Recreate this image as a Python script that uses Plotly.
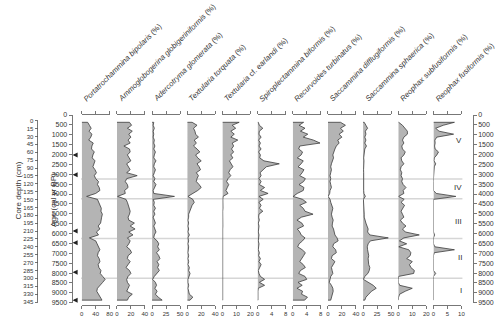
import plotly.graph_objects as go

# ---------------- data ----------------
ages = [370, 520, 670, 820, 970, 1120, 1270, 1420, 1570, 1720,
        1870, 2020, 2170, 2320, 2470, 2620, 2770, 2920, 3070, 3220,
        3370, 3520, 3670, 3820, 3970, 4120, 4270, 4420, 4570, 4720,
        4870, 5020, 5170, 5320, 5470, 5620, 5770, 5920, 6070, 6220,
        6370, 6520, 6670, 6820, 6970, 7120, 7270, 7420, 7570, 7720,
        7870, 8020, 8170, 8320, 8470, 8620, 8770, 8920, 9070, 9220,
        9370]

species = [
    "<i>Portatrochammina bipolaris</i> (%)",
    "<i>Ammoglobogerina globigeriniformis</i> (%)",
    "<i>Adercotryma glomerata</i> (%)",
    "<i>Textularia torquata</i> (%)",
    "<i>Textularia</i> cf. <i>earlandi</i> (%)",
    "<i>Spiroplectammina biformis</i> (%)",
    "<i>Recurvoides turbinatus</i> (%)",
    "<i>Saccammina difflugiformis</i> (%)",
    "<i>Saccammina sphaerica</i> (%)",
    "<i>Reophax subfusiformis</i> (%)",
    "<i>Reophax fusiformis</i> (%)",
]

portatrochammina = [17, 22, 27, 21, 29, 26, 20, 33, 29, 28,
                    36, 32, 30, 38, 34, 32, 38, 42, 36, 40,
                    48, 45, 50, 52, 40, 14, 45, 48, 52, 56,
                    55, 59, 57, 55, 54, 47, 52, 42, 48, 22,
                    40, 44, 48, 52, 47, 45, 50, 52, 47, 49,
                    55, 53, 60, 67, 60, 52, 45, 43, 48, 52,
                    58]
ammoglobogerina = [18, 21, 15, 22, 17, 20, 16, 19, 10, 18,
                   19, 15, 17, 20, 14, 17, 19, 14, 29, 14,
                   12, 15, 16, 11, 12, 1, 13, 15, 16, 17,
                   19, 18, 16, 17, 25, 19, 26, 17, 23, 15,
                   19, 17, 14, 19, 21, 16, 15, 19, 16, 13,
                   18, 20, 16, 14, 15, 18, 16, 14, 22, 17,
                   15]
adercotryma = [3, 2, 4, 2, 3, 2, 4, 3, 5, 3,
               6, 4, 3, 7, 4, 3, 6, 4, 2, 5,
               3, 7, 4, 2, 3, 40, 2, 4, 3, 6,
               3, 5, 2, 4, 6, 3, 5, 7, 4, 3,
               9, 12, 10, 13, 8, 12, 14, 9, 12, 10,
               13, 8, 4, 1, 6, 8, 5, 9, 6, 11,
               18]
textularia_torquata = [7, 14, 9, 11, 12, 16, 10, 13, 9, 14,
                       18, 12, 15, 20, 14, 17, 19, 13, 16, 14,
                       13, 17, 20, 15, 8, 1, 8, 10, 7, 5,
                       3, 2, 2, 1, 2, 1, 2, 1, 3, 1,
                       2, 1, 2, 1, 1, 2, 1, 2, 1, 3,
                       2, 4, 2, 1, 1, 2, 1, 2, 3, 8,
                       4]
textularia_earlandi = [12, 7, 9.5, 6, 8.5, 6, 11, 7, 8, 6.5,
                       8, 6, 7.5, 5, 6.5, 7.5, 5.5, 4.5, 6, 4,
                       3, 4.5, 3.5, 2.5, 4, 0.5, 0.3, 0.5, 0.3, 0.4,
                       0.2, 0.3, 0.2, 0.4, 0.2, 0.3, 0.2, 0.2, 0.3, 0.2,
                       0.3, 0.2, 0.2, 0.3, 0.2, 0.2, 0.3, 0.2, 0.2, 0.3,
                       0.2, 0.2, 0.3, 0.2, 0.2, 0.2, 0.3, 0.2, 0.2, 0.2,
                       0.2]
spiroplectammina = [0.2, 0.5, 1.5, 0.5, 0.4, 1, 0.3, 0.8, 0.4, 1,
                    0.3, 0.8, 0.6, 1.8, 6.2, 2.5, 1.5, 0.7, 1, 0.4,
                    1, 0.5, 2, 0.8, 3, 0.4, 1.6, 0.4, 1, 0.5,
                    1.5, 0.4, 0.3, 0.5, 0.2, 0.4, 0.3, 0.2, 0.4, 0.3,
                    0.2, 0.4, 0.3, 0.2, 0.5, 0.3, 0.8, 0.4, 1, 0.5,
                    0.2, 0.4, 0.8, 2, 0.5, 2, 0.2, 0.1, 0.1, 0.1,
                    0.1]
recurvoides = [3.1, 1.8, 3.5, 2.2, 4.3, 3, 5.9, 7.8, 2, 1.7,
               2.8, 2.4, 1.3, 3, 2.4, 1.5, 3.2, 2.7, 2, 3.6,
               3.1, 1.8, 3.2, 3, 1.3, 0.1, 2.8, 3.9, 2, 3,
               3.5, 5.8, 2.5, 1.2, 2.6, 3.1, 1.3, 2, 2.4, 3.5,
               2.8, 1.8, 1.4, 2.7, 3.6, 3.1, 2.6, 2, 3, 3.6,
               2.2, 1.7, 3.5, 4, 1.5, 2.7, 1.2, 2.8, 2.5, 4.2,
               3.4]
saccammina_difflugiformis = [18, 25, 18, 22, 16, 20, 14, 16, 12, 10,
                             8, 7, 8, 6, 5, 4, 5, 4, 3, 4,
                             3, 4, 5, 3, 2.5, 0.3, 3, 4, 6, 7,
                             6, 5, 6, 7.5, 6.5, 6, 8, 9, 10, 13,
                             14.6, 8, 7, 11, 12, 6, 5, 10, 7, 5,
                             6, 7, 4, 2.5, 2, 5, 7, 7.5, 6, 5,
                             4]
saccammina_sphaerica = [2, 5, 8, 4, 5, 3, 5, 3, 6, 3,
                        2, 1.5, 1, 1.5, 1, 1, 0.8, 1, 0.8, 1,
                        0.8, 1, 1, 1, 1.5, 4, 0.5, 1, 1.5, 1,
                        1.5, 2, 2, 3, 5, 7, 9, 8, 12, 45,
                        13, 9, 7.5, 8, 9, 10, 9, 9, 10, 12,
                        11, 8.5, 3, 0.5, 10, 18, 23.5, 15, 10, 5,
                        3]
reophax_subfusiformis = [0.3, 3, 5, 6.5, 6.5, 4, 3, 4, 2.5, 3,
                         5, 4, 2, 2.5, 4, 2, 1.5, 2.5, 2, 3,
                         2.5, 3.5, 5.5, 3.5, 4, 0.2, 4.2, 2, 4.5, 3,
                         2, 3, 4, 1.5, 3, 5.5, 3, 5, 15, 4,
                         0.8, 6, 0.3, 7.5, 9, 8.5, 6, 10, 8, 9,
                         11.5, 11, 0.2, 0, 0, 1, 10, 5, 1, 0.2,
                         0]
reophax_fusiformis = [7.5, 3.5, 0.8, 2, 7.2, 1.2, 0.5, 0.6, 0.4, 0.6,
                      1.8, 1.2, 0.3, 0.2, 0.8, 0.3, 0.2, 0, 0, 0,
                      0, 0, 0, 0, 1, 8, 0, 0, 0, 0,
                      0, 0, 0, 0, 0, 0, 0, 0, 0.4, 0,
                      0, 0, 0.5, 7.5, 0.3, 0, 0, 0, 0, 0,
                      0, 0.8, 0, 0, 0, 0, 0, 0, 0, 0,
                      0]

series = [portatrochammina, ammoglobogerina, adercotryma, textularia_torquata,
          textularia_earlandi, spiroplectammina, recurvoides,
          saccammina_difflugiformis, saccammina_sphaerica,
          reophax_subfusiformis, reophax_fusiformis]
axis_max = [80, 40, 50, 40, 20, 8, 8, 40, 50, 20, 10]
axis_mid = [40, 20, 25, 20, 10, 4, 4, 20, 25, 10, 5]

zone_bounds = [3240, 4240, 6250, 8260]
zone_labels = ["V", "IV", "III", "II", "I"]
zone_label_ages = [1270, 3680, 5370, 7220, 8890]
dated_ages = [2020, 3020, 5870, 6460, 7960, 9370]

age_ticks = [0, 500, 1000, 1500, 2000, 2500, 3000, 3500, 4000, 4500,
             5000, 5500, 6000, 6500, 7000, 7500, 8000, 8500, 9000, 9500]
depth_ticks = [0, 15, 30, 45, 60, 75, 90, 105, 120, 135, 150, 165,
               180, 195, 210, 225, 240, 255, 270, 285, 300, 315, 330, 345]

# ---------------- layout helpers ----------------
W, H_FIG = 500, 320
TOP, BOT = 115, 305
PH = BOT - TOP


def px(x):
    return x / W


def py(y):
    return (BOT - y) / PH


FONT = "Liberation Sans, Arial, sans-serif"
TXT = "#333333"
LINE = "#555555"
AGE_BOTTOM = 9500 * PH / (302.7 - TOP)

fig = go.Figure()
layout = dict(
    width=W, height=H_FIG,
    margin=dict(l=0, r=0, t=TOP, b=H_FIG - BOT, pad=0),
    paper_bgcolor="white", plot_bgcolor="rgba(0,0,0,0)",
    showlegend=False,
    font=dict(family=FONT, color=TXT, size=7),
    yaxis=dict(domain=[0, 1], range=[AGE_BOTTOM, 0], visible=False,
               showgrid=False, zeroline=False, anchor="x"),
)

annotations = []
shapes = []

panel_w = 28.3
for i, (vals, vmax, vmid, name) in enumerate(zip(series, axis_max, axis_mid, species)):
    left = 80.7 + 35.6 * i
    xname = "x" if i == 0 else f"x{i+1}"
    axkey = "xaxis" if i == 0 else f"xaxis{i+1}"
    xs = [0] + list(vals) + [0]
    ys = [ages[0]] + list(ages) + [ages[-1]]
    fig.add_trace(go.Scatter(
        x=xs, y=ys, mode="lines", fill="toself", fillcolor="#b4b4b4",
        line=dict(color="#3c3c3c", width=0.8), xaxis=xname, yaxis="y",
        hoverinfo="skip"))
    layout[axkey] = dict(
        domain=[px(left), px(left + panel_w)], range=[0, vmax], anchor="y",
        showline=True, linecolor=LINE, linewidth=0.8, mirror="ticks",
        ticks="outside", ticklen=3, tickwidth=0.8, tickcolor=LINE,
        tickvals=[0, vmid, vmax], ticktext=[str(0), str(vmid), str(vmax)],
        tickfont=dict(size=6, color=TXT), showgrid=False, zeroline=False)
    annotations.append(dict(
        text=name, xref="paper", yref="paper", x=px(left - 3), y=py(106),
        xanchor="left", yanchor="bottom", textangle=-45, showarrow=False,
        font=dict(size=7.6, color=TXT, family=FONT)))

# age axes (left & right) and depth axis
for key, pos, side in [("yaxis2", 70.5, "left"), ("yaxis4", 476.7, "right")]:
    layout[key] = dict(
        domain=[py(302.7), 1], range=[9500, 0], anchor="free", position=px(pos),
        side=side, showline=True, linecolor=LINE, linewidth=0.8,
        ticks="outside", ticklen=3, tickwidth=0.8, tickcolor=LINE,
        tickvals=age_ticks, tickfont=dict(size=7, color=TXT),
        showgrid=False, zeroline=False)
layout["yaxis3"] = dict(
    domain=[py(302), py(120.7)], range=[345, 0], anchor="free", position=px(36),
    side="left", showline=True, linecolor=LINE, linewidth=0.8,
    ticks="outside", ticklen=3, tickwidth=0.8, tickcolor=LINE,
    tickvals=depth_ticks, tickfont=dict(size=6, color=TXT),
    showgrid=False, zeroline=False)
for yk in ["y2", "y3", "y4"]:
    fig.add_trace(go.Scatter(x=[None], y=[None], xaxis="x", yaxis=yk,
                             mode="markers", hoverinfo="skip"))

# zone boundaries
for a in zone_bounds:
    shapes.append(dict(type="line", xref="paper", yref="y", x0=px(80), x1=px(466),
                       y0=a, y1=a, line=dict(color="#d6d6d6", width=1.5),
                       layer="below"))
for lab, a in zip(zone_labels, zone_label_ages):
    annotations.append(dict(text=lab, xref="paper", yref="y", x=px(468), y=a,
                            showarrow=False, font=dict(size=8, color=TXT)))

# dated levels (arrows)
for a in dated_ages:
    annotations.append(dict(text="", xref="paper", yref="y", x=px(71.5), y=a,
                            showarrow=True, ax=5, ay=0, arrowhead=2,
                            arrowsize=1, arrowwidth=1, arrowcolor="#222222"))

# axis titles
annotations.append(dict(text="Core depth (cm)", xref="paper", yref="paper",
                        x=px(10), y=py(190), textangle=-90, showarrow=False,
                        font=dict(size=8, color=TXT)))
annotations.append(dict(text="Age (cal yr BP)", xref="paper", yref="paper",
                        x=px(45), y=py(200), textangle=-90, showarrow=False,
                        font=dict(size=8, color=TXT)))

layout["annotations"] = annotations
layout["shapes"] = shapes
fig.update_layout(**layout)
fig.write_html("out.html", config={"displayModeBar": False, "staticPlot": True},
               post_script="document.body.style.margin='0px';"
                           "document.body.style.overflow='hidden';")
